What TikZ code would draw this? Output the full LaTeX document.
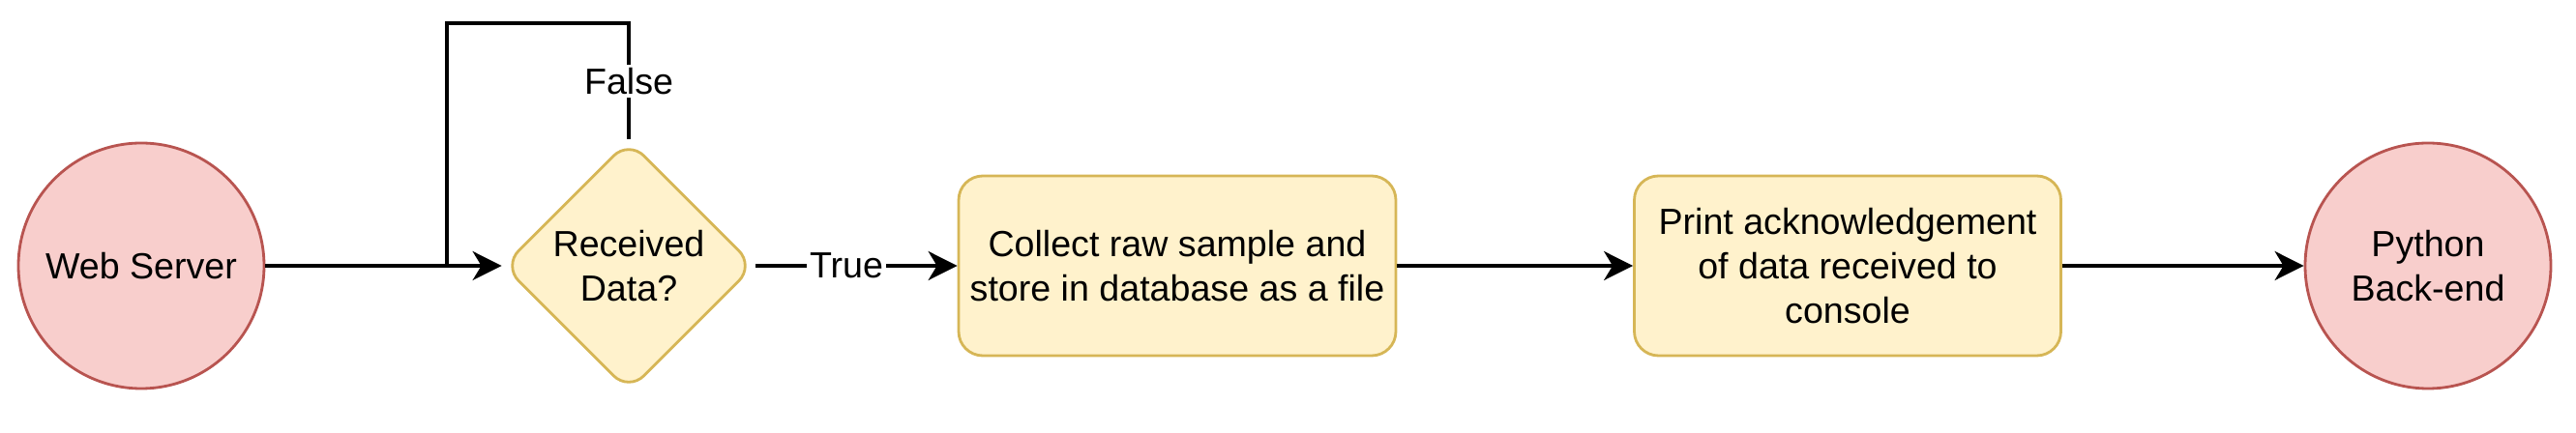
\documentclass[tikz,border=0pt]{standalone}
\usepackage{fontspec}
\setmainfont{Liberation Sans}
\usetikzlibrary{shapes.geometric,arrows.meta}
\definecolor{redfill}{HTML}{F8CECC}
\definecolor{redline}{HTML}{B85450}
\definecolor{yelfill}{HTML}{FFF2CC}
\definecolor{yelline}{HTML}{D6B656}
\tikzset{
  endpt/.style={circle, draw=redline, fill=redfill, line width=0.8pt, minimum size=2.54cm, inner sep=0pt, align=center},
  choice/.style={diamond, draw=yelline, fill=yelfill, line width=0.8pt, minimum size=2.6cm, aspect=1, rounded corners=0.22cm, inner sep=0pt, align=center},
  stepbox/.style={rectangle, draw=yelline, fill=yelfill, line width=0.8pt, minimum width=4.41cm, minimum height=1.86cm, rounded corners=0.25cm, align=center},
  flow/.style={line width=0.9pt, -{Stealth[length=0.3cm, width=0.3cm, inset=0.09cm]}},
  lbl/.style={fill=white, inner sep=0.03cm}
}
\begin{document}
\begin{tikzpicture}[font=\fontsize{10.7}{13.1}\selectfont]
\useasboundingbox (0,0) rectangle (26.63,-4.48);
% nodes
\node[endpt] (web) at (1.46,-2.75) {Web Server};
\node[choice] (dec) at (6.50,-2.75) {Received\\Data?};
\node[stepbox] (collect) at (12.17,-2.75) {Collect raw sample and\\store in database as a file};
\node[stepbox] (ack) at (19.10,-2.75) {Print acknowledgement\\of data received to\\console};
\node[endpt] (py) at (25.10,-2.75) {Python\\Back-end};
% edges
\coordinate (loop) at (4.62,-0.24);
\draw[flow] (web) -- (dec.west);
\draw[line width=0.9pt] (dec.north) -- node[lbl]{False} (dec.north |- loop) -- (loop) -- (loop |- web.east);
\draw[flow] (dec.east) -- node[lbl, pos=0.45]{True} (collect.west);
\draw[flow] (collect) -- (ack);
\draw[flow] (ack) -- (py);
\end{tikzpicture}
\end{document}
